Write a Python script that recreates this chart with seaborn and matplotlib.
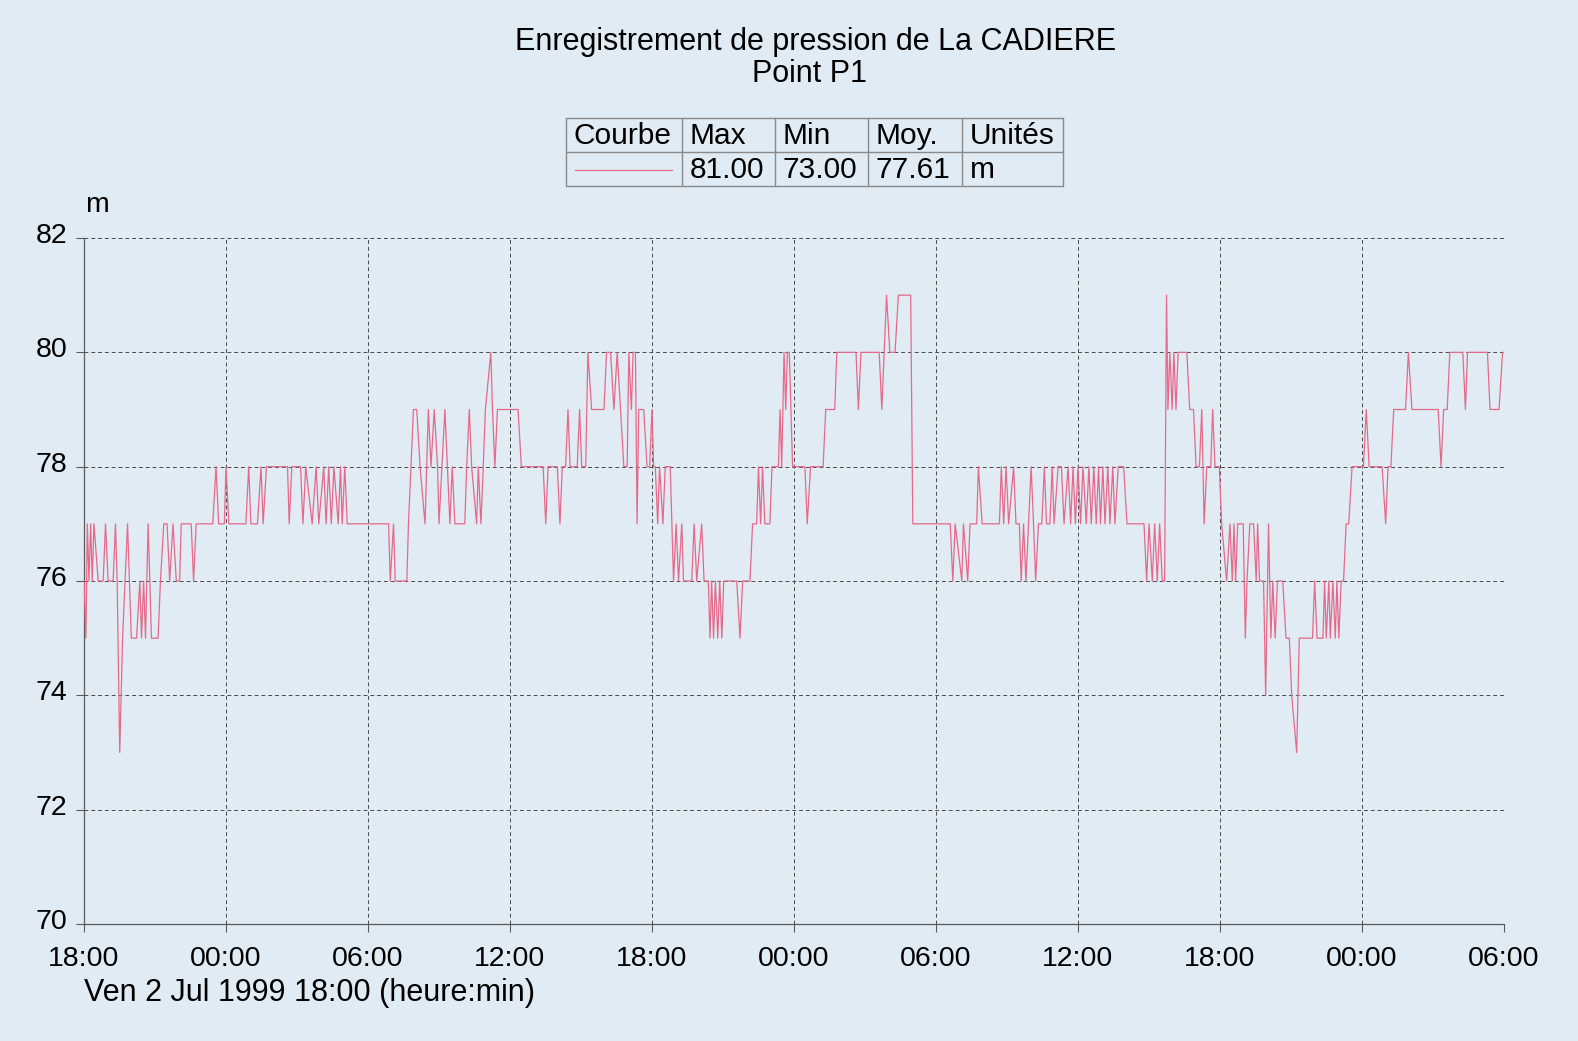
import matplotlib
matplotlib.use("Agg")
import matplotlib.pyplot as plt
import matplotlib.transforms as mtransforms
import pandas as pd
import seaborn as sns

# ---------------- data (hours since Ven 2 Jul 1999 18:00, pressure in m) ----------------
night1 = [(0, 76), (0.08, 75), (0.14, 77), (0.21, 76), (0.28, 77), (0.35, 76), (0.42, 77), (0.6, 76),
          (0.81, 76), (0.91, 77), (1.02, 76), (1.23, 76), (1.33, 77), (1.40, 76), (1.51, 73), (1.63, 75),
          (1.84, 77), (2.0, 75), (2.22, 75), (2.36, 76), (2.43, 75), (2.52, 76), (2.6, 75), (2.71, 77),
          (2.85, 75), (3.13, 75), (3.23, 76), (3.37, 77), (3.51, 77), (3.62, 76), (3.76, 77), (3.9, 76),
          (4.04, 76), (4.11, 77), (4.53, 77), (4.63, 76), (4.74, 77), (5.44, 77), (5.58, 78), (5.69, 77),
          (5.93, 77), (6.0, 78), (6.12, 77), (6.84, 77), (6.96, 78), (7.05, 77), (7.33, 77), (7.48, 78),
          (7.57, 77), (7.71, 78), (8.6, 78), (8.67, 77), (8.78, 78), (9.15, 78), (9.25, 77), (9.37, 78)]

day1 = [(9.64, 77), (9.81, 78), (9.92, 77), (10.13, 78), (10.23, 77), (10.34, 78), (10.45, 77), (10.56, 78),
        (10.74, 77), (10.84, 78), (10.91, 77), (11.02, 78), (11.12, 77), (12.87, 77), (12.94, 76), (13.08, 77),
        (13.15, 76), (13.64, 76), (13.71, 77), (13.92, 79), (14.06, 79), (14.2, 78), (14.41, 77), (14.55, 79),
        (14.66, 78), (14.8, 79), (14.94, 78), (15.0, 77), (15.25, 79), (15.46, 77), (15.56, 78), (15.67, 77),
        (16.09, 77), (16.17, 78), (16.28, 79), (16.38, 78), (16.59, 77), (16.66, 78), (16.77, 77), (16.87, 78),
        (16.96, 79), (17.19, 80), (17.26, 79), (17.36, 78), (17.47, 79), (18.34, 79), (18.48, 78), (19.4, 78)]

evening1 = [(19.51, 77), (19.61, 78), (20.0, 78), (20.11, 77), (20.21, 78), (20.35, 78), (20.45, 79), (20.54, 78),
            (20.84, 78), (20.94, 79), (21.03, 78), (21.2, 78), (21.29, 80), (21.45, 79), (21.97, 79), (22.08, 80),
            (22.25, 80), (22.39, 79), (22.53, 80), (22.67, 79), (22.81, 78), (22.95, 78), (23.02, 80), (23.13, 79),
            (23.2, 80), (23.3, 80), (23.37, 77), (23.44, 79), (23.65, 79), (23.79, 78), (23.9, 78), (24.0, 79),
            (24.07, 78), (24.14, 78), (24.24, 77), (24.32, 78), (24.46, 77), (24.56, 78), (24.77, 78), (24.91, 76),
            (25.02, 77), (25.12, 76), (25.26, 77), (25.33, 76), (25.68, 76), (25.78, 77), (25.89, 76), (26.1, 77),
            (26.2, 76), (26.38, 76), (26.45, 75), (26.52, 76), (26.6, 75), (26.68, 76), (26.78, 75), (26.86, 76),
            (26.95, 75), (27.03, 76), (27.58, 76), (27.72, 75), (27.83, 76), (28.14, 76), (28.25, 77), (28.42, 77),
            (28.5, 78), (28.59, 77), (28.67, 78), (28.77, 77), (28.98, 77)]

night2 = [(29.07, 78), (29.34, 78), (29.41, 79), (29.48, 78), (29.58, 80), (29.65, 79), (29.72, 80), (29.8, 80),
          (29.94, 78), (30.46, 78), (30.56, 77), (30.7, 78), (31.23, 78), (31.34, 79), (31.72, 79), (31.81, 80),
          (32.62, 80), (32.72, 79), (32.83, 80), (33.6, 80), (33.71, 79), (33.81, 80), (33.91, 81), (34.05, 80),
          (34.27, 80), (34.41, 81), (34.93, 81), (35.02, 77), (36.6, 77), (36.71, 76), (36.81, 77), (37.09, 76),
          (37.16, 77), (37.34, 76), (37.44, 77), (37.72, 77), (37.79, 78), (37.95, 77), (38.4, 77)]

day2 = [(38.51, 77), (38.68, 77), (38.76, 78), (38.86, 77), (38.96, 78), (39.07, 77), (39.28, 78), (39.38, 77),
        (39.52, 77), (39.6, 76), (39.7, 77), (39.8, 76), (39.91, 77), (40.02, 78), (40.12, 77), (40.21, 76),
        (40.33, 77), (40.47, 77), (40.58, 78), (40.67, 77), (40.81, 77), (40.91, 78), (40.99, 77), (41.16, 78),
        (41.3, 78), (41.41, 77), (41.58, 78), (41.69, 77), (41.79, 78), (41.89, 77), (42.0, 78), (42.11, 77),
        (42.21, 78), (42.35, 77), (42.46, 78), (42.56, 77), (42.67, 78), (42.77, 77), (42.87, 78), (42.95, 77),
        (43.05, 78), (43.14, 77), (43.26, 78), (43.35, 77), (43.47, 78), (43.56, 77), (43.7, 78), (43.93, 78),
        (44.07, 77), (44.79, 77), (44.9, 76), (45.0, 77), (45.14, 76), (45.24, 77), (45.35, 76), (45.45, 77),
        (45.56, 76), (45.66, 76), (45.74, 81), (45.8, 79), (45.88, 80), (45.98, 79), (46.05, 80), (46.14, 79),
        (46.23, 80), (46.33, 80), (46.6, 80), (46.72, 79), (46.88, 79), (46.99, 78), (47.13, 78), (47.23, 79),
        (47.33, 77), (47.44, 78), (47.61, 78), (47.69, 79), (47.79, 78), (47.97, 78), (48.07, 77), (48.28, 76),
        (48.42, 77)]

night3 = [(48.52, 76), (48.59, 77), (48.66, 76), (48.75, 77), (48.98, 77), (49.07, 75), (49.14, 76), (49.26, 77),
          (49.42, 77), (49.53, 76), (49.59, 77), (49.67, 76), (49.84, 76), (49.93, 74), (50.05, 77), (50.15, 75),
          (50.23, 76), (50.33, 75), (50.43, 76), (50.65, 76), (50.79, 75), (50.93, 75), (51.03, 74), (51.24, 73),
          (51.35, 75), (51.91, 75), (52.0, 76), (52.1, 75), (52.35, 75), (52.42, 76), (52.49, 75), (52.6, 76),
          (52.66, 75), (52.77, 76), (52.87, 75), (52.94, 76), (53.02, 75), (53.12, 76), (53.22, 76), (53.33, 77),
          (53.44, 77), (53.58, 78), (54.0, 78), (54.06, 78), (54.18, 79), (54.3, 78), (54.85, 78), (55.0, 77),
          (55.1, 78), (55.22, 78), (55.34, 79), (55.84, 79), (55.96, 80), (56.11, 79), (57.22, 79), (57.34, 78),
          (57.45, 79), (57.6, 79), (57.71, 80), (58.26, 80), (58.37, 79), (58.46, 80), (59.3, 80), (59.41, 79),
          (59.79, 79), (59.94, 80), (60.0, 80)]

x_tick_hours = [0, 6, 12, 18, 24, 30, 36, 42, 48, 54, 60]
x_tick_labels = ["18:00", "00:00", "06:00", "12:00", "18:00", "00:00",
                 "06:00", "12:00", "18:00", "00:00", "06:00"]
y_ticks = [70, 72, 74, 76, 78, 80, 82]
title_lines = ["Enregistrement de pression de La CADIERE", "Point P1"]
table_headers = ["Courbe", "Max", "Min", "Moy.", "Unités"]
table_values = ["81.00", "73.00", "77.61", "m"]
y_unit = "m"
x_caption = "Ven 2 Jul 1999 18:00 (heure:min)"

# ---------------- style ----------------
W, H = 1578, 1041
BG = "#E1EBF3"
LINE = "#E5698A"
AXC = "#5A5A5A"
GRIDC = "#4A4A4A"
FS = 20.5

sns.set_theme(style="ticks", rc={"axes.facecolor": BG, "figure.facecolor": BG,
                                 "text.color": "black", "axes.labelcolor": "black",
                                 "xtick.color": "black", "ytick.color": "black"})
plt.rcParams["font.family"] = ["Liberation Sans", "DejaVu Sans"]

df = pd.DataFrame(night1 + day1 + evening1 + night2 + day2 + night3, columns=["heures", "pression"])

fig = plt.figure(figsize=(W / 100, H / 100), dpi=100, facecolor=BG)
ax = fig.add_axes([84 / W, 1 - 924 / H, 1420 / W, 686 / H], facecolor=BG)
sns.lineplot(data=df, x="heures", y="pression", ax=ax, color=LINE, linewidth=0.9,
             estimator=None, sort=False, zorder=3)

ax.set_xlim(x_tick_hours[0], x_tick_hours[-1])
ax.set_ylim(y_ticks[0], y_ticks[-1])
ax.set_xticks(x_tick_hours)
ax.set_xticklabels(x_tick_labels)
ax.set_yticks(y_ticks)
ax.set_xlabel("")
ax.set_ylabel("")
ax.set_axisbelow(True)
ax.grid(True, linestyle=(0, (4, 3)), color=GRIDC, linewidth=0.7)
for s in ["top", "right"]:
    ax.spines[s].set_visible(False)
for s in ["left", "bottom"]:
    ax.spines[s].set_color(AXC)
    ax.spines[s].set_linewidth(0.9)
ax.tick_params(axis="both", length=6, width=0.8, color=AXC, labelsize=FS, labelcolor="black")
ax.tick_params(axis="x", pad=10)
ax.tick_params(axis="y", pad=6)
shift = mtransforms.ScaledTranslation(0, 5 / 100, fig.dpi_scale_trans)
for lab in ax.get_yticklabels():
    lab.set_transform(lab.get_transform() + shift)

# ---------------- overlay: titles, table, captions ----------------
ov = fig.add_axes([0, 0, 1, 1], facecolor="none", zorder=5)
ov.set_xlim(0, W)
ov.set_ylim(H, 0)
ov.axis("off")

ov.text(816, 42, title_lines[0], ha="center", va="center", fontsize=22, color="black")
ov.text(810, 74, title_lines[1], ha="center", va="center", fontsize=22, color="black")

col_edges = [566, 682, 775, 868, 962, 1063]
row_edges = [118, 152, 186]
TBC = "#8A8A8A"
for xe in col_edges:
    ov.plot([xe, xe], [row_edges[0], row_edges[-1]], color=TBC, lw=1)
for ye in row_edges:
    ov.plot([col_edges[0], col_edges[-1]], [ye, ye], color=TBC, lw=1)
for i, t in enumerate(table_headers):
    ov.text(col_edges[i] + 8, 136, t, ha="left", va="center", fontsize=21.5, color="black")
for i, t in enumerate(table_values):
    ov.text(col_edges[i + 1] + 8, 170, t, ha="left", va="center", fontsize=21.5, color="black")
ov.plot([575, 672], [170, 170], color=LINE, lw=0.9)

ov.text(85, 205, y_unit, ha="left", va="center", fontsize=FS, color="black")
ov.text(84, 993, x_caption, ha="left", va="center", fontsize=22, color="black")

fig.savefig("out.png", dpi=100, facecolor=BG)
